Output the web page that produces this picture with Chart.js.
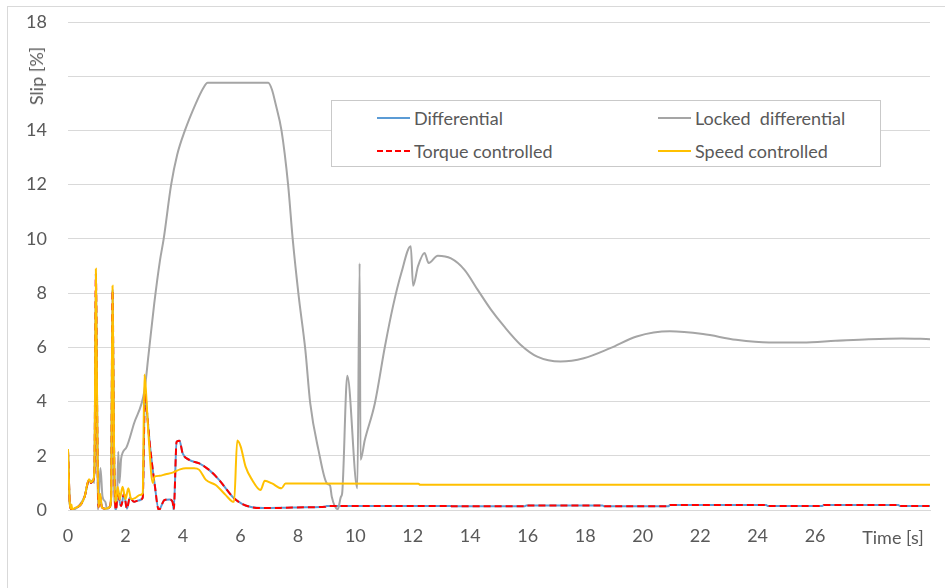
<!DOCTYPE html>
<html>
<head>
<meta charset="utf-8">
<script src="https://cdn.jsdelivr.net/npm/chart.js@4.4.1/dist/chart.umd.min.js"></script>
<style>
  body { margin: 0; background: #fff; overflow: hidden; }
  #wrap { position: relative; width: 945px; height: 588px; font-family: Lato, "Open Sans", sans-serif; color: #595959; }
  #frame { position: absolute; left: 7px; top: 6px; width: 960px; height: 600px; border: 1px solid #d9d9d9; }
  #chartKurva { position: absolute; left: 0; top: 0; }
  .axisTitle { position: absolute; font-size: 18px; white-space: pre; transform: translate(-50%, -50%); }
  #ytitle { left: 36px; top: 76px; transform: translate(-50%, -50%) rotate(-90deg); }
  #xtitle { left: 893px; top: 537px; }
  #legend { position: absolute; left: 331px; top: 100px; width: 548px; height: 65px; border: 1px solid #c9c9c9; background: #fff; }
  .item { position: absolute; height: 20px; font-size: 18px; white-space: pre; line-height: 20px; }
  .item span.line { position: absolute; left: 0; top: 9px; width: 33px; height: 0; }
  .item span.text { position: absolute; left: 37px; top: 0; }
</style>
</head>
<body>
<div id="wrap">
  <div id="frame"></div>
  <canvas id="chartKurva" width="945" height="588"></canvas>
  <div id="legend"></div>
  <div class="axisTitle" id="ytitle">Slip [%]</div>
  <div class="axisTitle" id="xtitle">Time [s]</div>
</div>
<script>
// nilai
var seriesNames = ['Differential', 'Locked  differential', 'Torque controlled', 'Speed controlled'];

var diffT = [0, 0.03, 0.06, 0.1, 0.15, 0.35, 0.46, 0.58, 0.73, 0.8, 0.87, 0.92, 0.97, 1.02, 1.06, 1.12, 1.18, 1.3, 1.45, 1.5, 1.55, 1.6, 1.64,
    1.67, 1.74, 1.8, 1.85, 1.95, 2.05, 2.15, 2.3, 2.45, 2.6, 2.68, 2.75, 2.85, 2.95, 3.01, 3.16, 3.36, 3.53, 3.64, 3.68,
    3.78, 3.88, 3.99, 4.22, 4.57, 4.91, 5.26, 5.49, 5.78, 6.07, 6.41, 6.8, 7.5, 8.26, 8.95, 9.0, 13.3, 13.35, 15.9, 15.95,
    18.6, 18.65, 20.9, 20.95, 24.3, 24.35, 26.25, 26.3, 28.9, 28.95, 30];
var diffV = [2.2, 1.2, 0.25, 0.05, 0.02, 0.12, 0.22, 0.5, 1.1, 1.0, 1.08, 1.4, 8.7, 3.0, 0.1, 0.5, 0.1, 0.05, 0.1, 0.5, 8.1, 2.5, 0.3,
    0.0, 0.75, 0.3, 0.15, 0.6, 0.05, 0.45, 0.3, 0.35, 0.45, 4.3, 3.6, 2.4, 1.48, 1.0, 0.0, 0.37, 0.39, 0.3, 0.0,
    2.52, 2.55, 2.09, 1.85, 1.72, 1.48, 1.11, 0.8, 0.43, 0.22, 0.1, 0.07, 0.08, 0.1, 0.12, 0.15, 0.15, 0.14, 0.14, 0.17,
    0.17, 0.14, 0.14, 0.18, 0.18, 0.15, 0.15, 0.18, 0.18, 0.15, 0.15];

var lockedT = [0, 0.06, 0.15, 0.35, 0.58, 0.73, 0.87, 0.92, 0.97, 1.04, 1.13, 1.2, 1.3, 1.36, 1.5, 1.55, 1.62, 1.7, 1.75, 1.79, 1.85,
    2.03, 2.3, 2.66, 2.8, 3.0, 3.2, 3.33, 3.59, 3.8, 4.07, 4.45, 4.7, 4.86, 6.97, 7.1, 7.22, 7.43, 7.66, 7.82, 8.03,
    8.26, 8.43, 8.72, 9.01, 9.12, 9.18, 9.39, 9.5, 9.54, 9.72, 10.07, 10.15, 10.18, 10.33, 10.68, 11.03, 11.31, 11.6,
    11.93, 12.01, 12.18, 12.41, 12.55, 12.87, 13.33, 13.8, 14.26, 14.72, 15.18, 15.76, 16.33, 17.14, 17.95, 18.87,
    19.79, 20.95, 22.1, 23.25, 24.4, 25.56, 26.71, 27.87, 29.02, 30];
var lockedV = [2.2, 0.25, 0.02, 0.12, 0.5, 1.1, 1.05, 1.0, 7.0, 0.0, 1.55, 0.5, 0.3, 0.05, 0.3, 6.0, 0.3, 0.1, 2.15, 1.0, 1.9,
    2.3, 3.2, 4.4, 5.7, 7.6, 9.2, 10, 12, 13.1, 14, 15, 15.55, 15.76, 15.76, 15.5, 15.0, 14, 12, 10, 7.88,
    5.91, 3.94, 2.2, 0.98, 0.9, 0.49, 0.03, 0.49, 0.6, 4.95, 0.8, 9.1, 1.85, 2.58, 3.94, 6.03, 7.51, 8.74,
    9.73, 8.27, 8.99, 9.48, 9.11, 9.38, 9.28, 8.86, 8.12, 7.39, 6.77, 6.09, 5.66, 5.48, 5.6, 5.97,
    6.4, 6.59, 6.49, 6.28, 6.18, 6.18, 6.24, 6.3, 6.33, 6.3];

var torqueT = diffT.slice();
var torqueV = [2.2, 1.2, 0.25, 0.05, 0.02, 0.12, 0.22, 0.5, 1.1, 1.0, 1.08, 1.4, 8.7, 3.0, 0.1, 0.5, 0.1, 0.05, 0.1, 0.5, 8.1, 2.5, 0.3,
    0.0, 0.75, 0.3, 0.15, 0.6, 0.05, 0.45, 0.3, 0.35, 0.45, 4.3, 3.6, 2.4, 1.48, 1.0, 0.0, 0.37, 0.39, 0.3, 0.0,
    2.52, 2.55, 2.09, 1.85, 1.72, 1.48, 1.11, 0.8, 0.43, 0.22, 0.1, 0.07, 0.08, 0.1, 0.12, 0.15, 0.15, 0.14, 0.14, 0.17,
    0.17, 0.14, 0.14, 0.18, 0.18, 0.15, 0.15, 0.18, 0.18, 0.15, 0.15];

var speedT = [0, 0.03, 0.06, 0.1, 0.12, 0.15, 0.25, 0.35, 0.46, 0.58, 0.73, 0.8, 0.87, 0.92, 0.97, 1.02, 1.06, 1.12, 1.18, 1.3, 1.45,
    1.5, 1.55, 1.6, 1.64, 1.68, 1.73, 1.8, 1.9, 2.0, 2.1, 2.2, 2.35, 2.5, 2.6, 2.66, 2.7, 2.8, 2.95, 3.01, 3.18, 3.4,
    3.64, 3.9, 4.1, 4.39, 4.57, 4.8, 5.14, 5.49, 5.72, 5.78, 5.89, 6.01, 6.18, 6.41, 6.7, 6.85, 7.1, 7.43, 7.57,
    12.2, 12.25, 30];
var speedV = [2.25, 1.2, 0.25, 0.05, 0.2, 0.02, 0.08, 0.12, 0.22, 0.5, 1.13, 1.02, 1.1, 1.5, 8.9, 3.0, 0.1, 0.6, 0.1, 0.05, 0.1,
    0.5, 8.27, 2.5, 0.3, 0.4, 0.86, 0.4, 0.86, 0.4, 0.8, 0.4, 0.45, 0.55, 0.62, 5.0, 4.6, 2.8, 1.0, 1.23, 1.26, 1.32,
    1.38, 1.5, 1.54, 1.54, 1.48, 1.11, 0.92, 0.55, 0.31, 0.3, 2.56, 2.34, 1.6, 1.11, 0.74, 1.08, 0.98, 0.8, 0.98,
    0.97, 0.93, 0.93];

var xTicks = [0, 2, 4, 6, 8, 10, 12, 14, 16, 18, 20, 22, 24, 26];
var yTicks = [0, 2, 4, 6, 8, 10, 12, 14, 18];

function toPoints(t, v) {
    var pts = [];
    for (var i = 0; i < t.length; i++) pts.push({ x: t[i], y: v[i] });
    return pts;
}

function makeDataset(label, t, v, color, dash, order) {
    return {
        label: label,
        data: toPoints(t, v),
        borderColor: color,
        backgroundColor: color,
        borderWidth: 2,
        borderDash: dash,
        pointRadius: 0,
        cubicInterpolationMode: 'monotone',
        order: order
    };
}

var textColor = '#595959';
var fontSpec = { family: 'Lato, "Open Sans", sans-serif', size: 18 };

var ctx = document.getElementById('chartKurva').getContext('2d');
var myChart = new Chart(ctx, {
    type: 'line',
    data: {
        datasets: [
            makeDataset(seriesNames[0], diffT, diffV, '#5B9BD5', [], 3),
            makeDataset(seriesNames[1], lockedT, lockedV, '#A5A5A5', [], 2),
            makeDataset(seriesNames[2], torqueT, torqueV, '#FF0000', [7, 4], 1),
            makeDataset(seriesNames[3], speedT, speedV, '#FFC000', [], 0)
        ]
    },
    options: {
        responsive: false,
        animation: false,
        layout: { padding: { top: 22, right: 10, left: 0, bottom: 0 } },
        plugins: { legend: { display: false }, tooltip: { enabled: false } },
        scales: {
            x: {
                type: 'linear',
                min: 0,
                max: 30,
                grid: { display: false, drawTicks: false },
                border: { display: true, color: '#d9d9d9', width: 1 },
                ticks: {
                    stepSize: 2,
                    autoSkip: false,
                    maxRotation: 0,
                    padding: 15,
                    color: textColor,
                    font: fontSpec,
                    callback: function (v) { return xTicks.indexOf(v) >= 0 ? String(v) : ''; }
                },
                afterFit: function (scale) { scale.height = 78; }
            },
            y: {
                min: 0,
                max: 18,
                // tick transparan supaya label bergeser ke kiri tanpa menambah padding atas
                grid: { color: '#d9d9d9', lineWidth: 1, drawTicks: true, tickLength: 21, tickColor: 'rgba(0,0,0,0)' },
                border: { display: false },
                ticks: {
                    stepSize: 2,
                    padding: 0,
                    color: textColor,
                    font: fontSpec,
                    callback: function (v) { return yTicks.indexOf(v) >= 0 ? String(v) : ''; }
                },
                afterFit: function (scale) { scale.width = 68; }
            }
        }
    }
});

// legenda 2 kolom seperti di Excel
var legendPos = [[45, 7], [326, 7], [45, 40], [326, 40]];
var legendOrder = [0, 1, 2, 3];
var legend = document.getElementById('legend');
legendOrder.forEach(function (idx, k) {
    var ds = myChart.data.datasets[idx];
    var item = document.createElement('div');
    item.className = 'item';
    item.style.left = legendPos[k][0] + 'px';
    item.style.top = legendPos[k][1] + 'px';
    var line = document.createElement('span');
    line.className = 'line';
    line.style.borderTop = '2px ' + (ds.borderDash.length ? 'dashed ' : 'solid ') + ds.borderColor;
    var text = document.createElement('span');
    text.className = 'text';
    text.textContent = ds.label;
    item.appendChild(line);
    item.appendChild(text);
    legend.appendChild(item);
});
</script>
</body>
</html>
